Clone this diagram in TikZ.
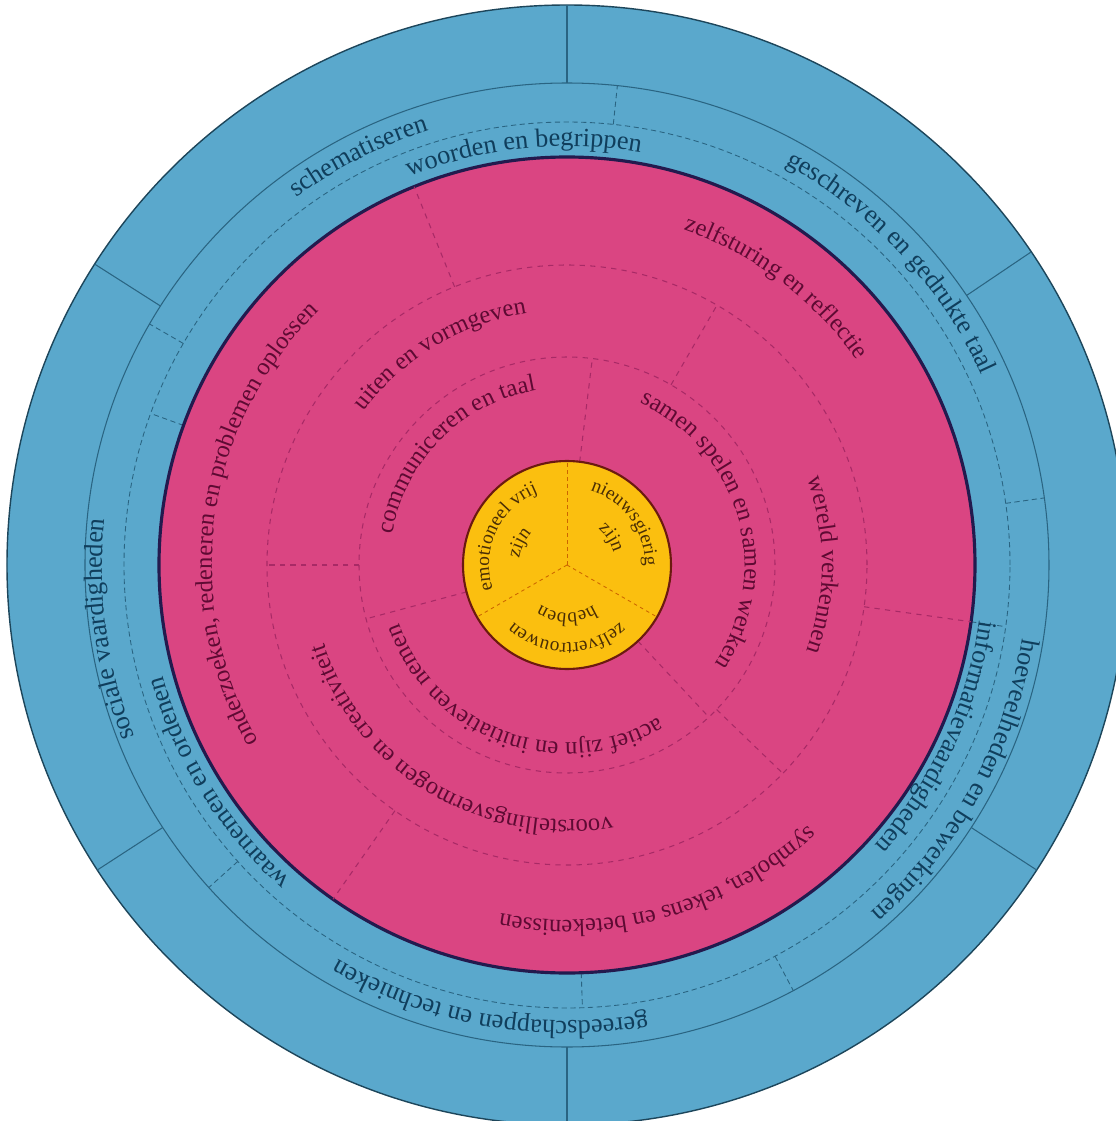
\documentclass[tikz,border=0pt]{standalone}
\usepackage{fontspec}
\setmainfont{Liberation Serif}
\usepackage{xcolor}
\usetikzlibrary{decorations.text}

\definecolor{ringblue}{HTML}{5AA8CC}
\definecolor{ringpink}{HTML}{DA4582}
\definecolor{coreyellow}{HTML}{FBBF0F}
\definecolor{bluetxt}{HTML}{103E5C}
\definecolor{pinktxt}{HTML}{5E0A33}
\definecolor{coretxt}{HTML}{4A2E05}
\definecolor{blueline}{HTML}{2A6482}
\definecolor{pinkline}{HTML}{A82A66}
\definecolor{pinkedge}{HTML}{231A4E}
\definecolor{coreedge}{HTML}{6B1A10}

% text on a circle, clockwise, tops outward: angle, radius, format, text
\newcommand{\ringtext}[4]{%
  \path[decorate, decoration={text along path, text align=center, text={|#3|#4}}]
    ({#1+100}:#2) arc[start angle={#1+100}, end angle={#1-100}, radius=#2];}

\begin{document}
\begin{tikzpicture}[
    divider/.style={blueline, line width=0.6pt},
    bluedash/.style={blueline, line width=0.5pt, dash pattern=on 3pt off 2pt},
    pinkdash/.style={pinkline, line width=0.6pt, dash pattern=on 3pt off 3pt},
    coredash/.style={orange!80!black, line width=0.5pt, dash pattern=on 2pt off 2pt}]
  \def\rOut{11.2}
  \def\rBand{9.64}
  \def\rSub{8.86}
  \def\rPink{8.16}
  \def\rMid{6.0}
  \def\rIn{4.16}
  \def\rCore{2.08}
  \def\bfont{\fontsize{15}{15}\selectfont\color{bluetxt}}
  \def\pfont{\fontsize{14}{14}\selectfont\color{pinktxt}}
  \def\cfont{\fontsize{11}{11}\selectfont\color{coretxt}}
  \useasboundingbox (-11.34,-11.12) rectangle (10.98,11.30);
  \clip (-11.34,-11.12) rectangle (10.98,11.30);
  \fill[white] (-11.34,-11.12) rectangle (10.98,11.30);
  \coordinate (c) at (0,0);

  % blue rings
  \filldraw[fill=ringblue, draw=blueline!70!black, line width=0.8pt] (c) circle (\rOut);
  \draw[divider] (c) circle (\rBand);
  \draw[bluedash] (c) circle (\rSub);
  \foreach \a in {90,34,-33,-90,-147,147.5}
    \draw[divider] (\a:\rBand) -- (\a:\rOut);
  \foreach \a in {84,8,-62,222,150}
    \draw[bluedash] (\a:\rSub) -- (\a:\rBand);
  \foreach \a in {-8,-88,160}
    \draw[bluedash] (\a:\rPink) -- (\a:\rSub);

  % pink rings
  \filldraw[fill=ringpink, draw=pinkedge, line width=1.8pt] (c) circle (\rPink);
  \draw[pinkdash] (c) circle (\rMid);
  \draw[pinkdash] (c) circle (\rIn);
  \foreach \a in {83,195,313}
    \draw[pinkdash] (\a:\rCore) -- (\a:\rIn);
  \foreach \a in {60,180,316}
    \draw[pinkdash] (\a:\rIn) -- (\a:\rMid);
  \foreach \a in {112,-8,235}
    \draw[pinkdash] (\a:\rMid) -- (\a:\rPink);

  % core
  \filldraw[fill=coreyellow, draw=coreedge, line width=1.2pt] (c) circle (\rCore);
  \foreach \a in {90,210,330}
    \draw[coredash] (c) -- (\a:\rCore);

  % labels
  \ringtext{96}{8.38cm}{\bfont}{woorden en begrippen}
  \ringtext{-25}{8.32cm}{\bfont}{informatievaardigheden}
  \ringtext{212}{8.38cm}{\bfont}{waarnemen en ordenen}
  \ringtext{117}{9.12cm}{\bfont}{schematiseren}
  \ringtext{43}{9.12cm}{\bfont}{geschreven en gedrukte taal}
  \ringtext{-29}{9.22cm}{\bfont}{hoeveelheden en bewerkingen}
  \ringtext{260}{9.12cm}{\bfont}{gereedschappen en technieken}
  \ringtext{188}{9.3cm}{\bfont}{sociale vaardigheden}

  \ringtext{53}{7.1cm}{\pfont}{zelfsturing en reflectie}
  \ringtext{172}{7.1cm}{\pfont}{onderzoeken, redeneren en problemen oplossen}
  \ringtext{286}{7.1cm}{\pfont}{symbolen, tekens en betekenissen}
  \ringtext{121}{5.1cm}{\pfont}{uiten en vormgeven}
  \ringtext{0}{5.1cm}{\pfont}{wereld verkennen}
  \ringtext{239}{5.1cm}{\pfont}{voorstellingsvermogen en creativiteit}
  \ringtext{135}{3.55cm}{\pfont}{communiceren en taal}
  \ringtext{16}{3.55cm}{\pfont}{samen spelen en samen werken}
  \ringtext{250}{3.55cm}{\pfont}{actief zijn en initiatieven nemen}

  \ringtext{155}{1.56cm}{\cfont}{emotioneel vrij}
  \ringtext{155}{0.96cm}{\cfont}{zijn}
  \ringtext{36}{1.56cm}{\cfont}{nieuwsgierig}
  \ringtext{32}{0.96cm}{\cfont}{zijn}
  \ringtext{270}{1.56cm}{\cfont}{zelfvertrouwen}
  \ringtext{270}{0.96cm}{\cfont}{hebben}
\end{tikzpicture}
\end{document}
